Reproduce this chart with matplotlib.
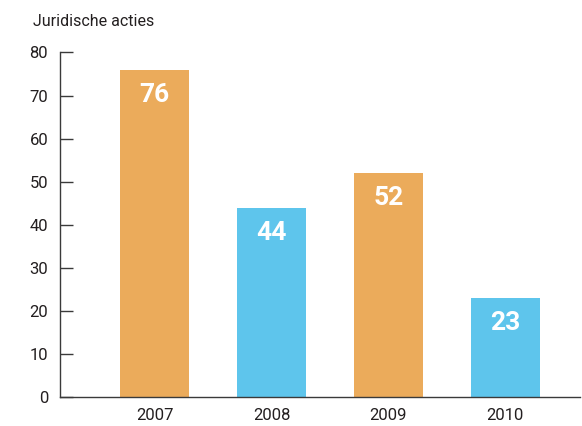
import matplotlib
matplotlib.use("Agg")
import matplotlib.pyplot as plt
from matplotlib import font_manager

years = ["2007", "2008", "2009", "2010"]
acties = [76, 44, 52, 23]
bar_colors = ["#EBAB5B", "#5EC5EC", "#EBAB5B", "#5EC5EC"]
y_ticks = [0, 10, 20, 30, 40, 50, 60, 70, 80]
title = "Juridische acties"

available = {f.name for f in font_manager.fontManager.ttflist}
family = [f for f in ["Liberation Sans Narrow", "DejaVu Sans Condensed", "Roboto", "DejaVu Sans"] if f in available]
plt.rcParams["font.family"] = family

text_color = "#231F20"

fig = plt.figure(figsize=(5.82, 4.26), dpi=100)
ax = fig.add_axes([0.1031, 0.0681, 0.8935, 0.8087])

x = list(range(len(years)))
ax.bar(x, acties, width=0.59, color=bar_colors, zorder=2)

for xi, v in zip(x, acties):
    ax.annotate(str(v), xy=(xi, v), xytext=(0, -18), textcoords="offset points",
                ha="center", va="center", color="white", fontsize=19, fontweight="bold")

ax.set_xlim(-0.81, 3.64)
ax.set_ylim(0, 80)
ax.set_yticks(y_ticks)
ax.set_yticklabels([str(t) for t in y_ticks])
ax.set_xticks(x)
ax.set_xticklabels(years)

for s in ["top", "right"]:
    ax.spines[s].set_visible(False)
for s in ["left", "bottom"]:
    ax.spines[s].set_color("#3a3a3a")
    ax.spines[s].set_linewidth(1.0)

ax.tick_params(axis="y", direction="in", length=9.5, width=1.0, color="#3a3a3a",
               labelsize=12, labelcolor=text_color, pad=8.5)
ax.tick_params(axis="x", length=0, labelsize=12, labelcolor=text_color, pad=8)

fig.text(33 / 582, 1 - 22 / 426, title, ha="left", va="center",
         fontsize=11.5, color=text_color)

fig.savefig("out.png", dpi=100)
